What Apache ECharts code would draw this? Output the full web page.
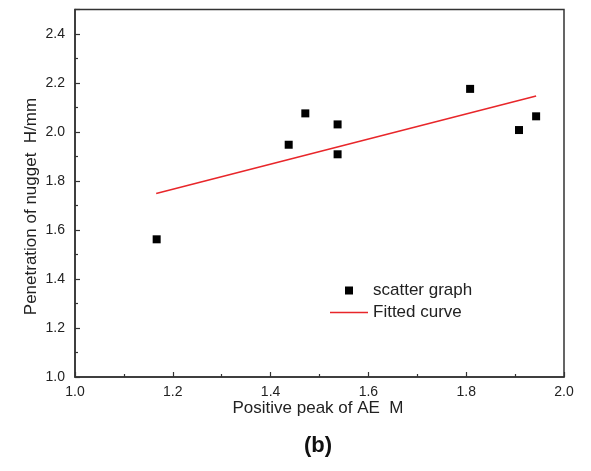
<!DOCTYPE html>
<html><head><meta charset="utf-8">
<script src="https://cdn.jsdelivr.net/npm/echarts@6/dist/echarts.min.js"></script>
<style>html,body{margin:0;padding:0;background:#fff}#c{width:591px;height:471px}</style>
</head><body><div id="c"></div>
<script>
const scatterX = [1.167, 1.437, 1.471, 1.537, 1.537, 1.808, 1.908, 1.943];
const scatterY = [1.562, 1.948, 2.076, 2.031, 1.909, 2.176, 2.008, 2.064];
const fitX = [1.166, 1.943];
const fitY = [1.749, 2.147];
const xTitle = 'Positive peak of AE  M';
const yTitle = 'Penetration of nugget  H/mm';
const panelLabel = '(b)';

const font = 'Liberation Sans, Arial, sans-serif';
const chart = echarts.init(document.getElementById('c'));
chart.setOption({
  animation: false,
  backgroundColor: '#fff',
  grid: {left: 75, right: 27, top: 9.5, bottom: 94, show: true, borderColor: '#333', borderWidth: 1.5},
  xAxis: {
    type: 'value', min: 1.0, max: 2.0, interval: 0.2,
    axisLine: {lineStyle: {color: '#333', width: 1.5}},
    axisTick: {inside: true, length: 5, lineStyle: {color: '#333', width: 1.2}},
    minorTick: {show: true, splitNumber: 2, length: 3, lineStyle: {color: '#333', width: 1.2}},
    splitLine: {show: false},
    axisLabel: {color: '#222', fontSize: 14, fontFamily: font, margin: 8, formatter: v => v.toFixed(1)}
  },
  yAxis: {
    type: 'value', min: 1.0, max: 2.5, interval: 0.2,
    axisLine: {lineStyle: {color: '#333', width: 1.5}},
    axisTick: {inside: true, length: 5, lineStyle: {color: '#333', width: 1.2}},
    minorTick: {show: true, splitNumber: 2, length: 3, lineStyle: {color: '#333', width: 1.2}},
    splitLine: {show: false},
    axisLabel: {color: '#222', fontSize: 14, fontFamily: font, margin: 10, showMaxLabel: false,
      formatter: v => (Math.abs(v * 5 - Math.round(v * 5)) < 1e-6 ? v.toFixed(1) : '')}
  },
  legend: {
    orient: 'vertical', left: 325, top: 277, itemWidth: 38, itemHeight: 8, itemGap: 5,
    textStyle: {color: '#222', fontSize: 17, fontFamily: font},
    data: [
      {name: 'scatter graph', icon: 'path://M0,0L0.01,0M38,8L37.99,8M15,0h8v8h-8z', itemStyle: {color: '#000'}},
      {name: 'Fitted curve', icon: 'path://M0,0L0.01,0M38,8L37.99,8M0,3.25h38v1.5h-38z', itemStyle: {color: '#e8262a'}}
    ]
  },
  series: [
    {name: 'scatter graph', type: 'scatter', symbol: 'rect', symbolSize: 8,
      itemStyle: {color: '#000', opacity: 1},
      data: scatterX.map((x, i) => [x, scatterY[i]])},
    {name: 'Fitted curve', type: 'line', symbol: 'none', showSymbol: false,
      lineStyle: {color: '#e8262a', width: 1.5}, itemStyle: {color: '#e8262a'},
      data: fitX.map((x, i) => [x, fitY[i]])}
  ],
  graphic: [
    {type: 'text', x: 318, y: 408, style: {text: xTitle, fill: '#222', font: '17px ' + font, align: 'center', verticalAlign: 'middle'}},
    {type: 'text', x: 31.5, y: 206.5, rotation: Math.PI / 2, style: {text: yTitle, fill: '#222', font: '17px ' + font, align: 'center', verticalAlign: 'middle'}},
    {type: 'text', x: 318, y: 446, style: {text: panelLabel, fill: '#111', font: 'bold 22px ' + font, align: 'center', verticalAlign: 'middle'}}
  ]
});
</script></body></html>
